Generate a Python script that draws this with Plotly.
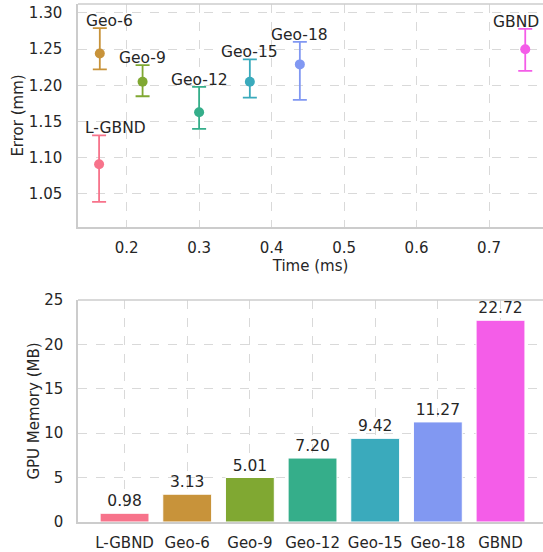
import plotly.graph_objects as go
from plotly.subplots import make_subplots

methods = ["L-GBND", "Geo-6", "Geo-9", "Geo-12", "Geo-15", "Geo-18", "GBND"]
time_ms = [0.162, 0.163, 0.222, 0.300, 0.370, 0.439, 0.750]
error_mm = [1.091, 1.244, 1.205, 1.163, 1.205, 1.229, 1.250]
error_hi = [1.131, 1.279, 1.228, 1.198, 1.236, 1.260, 1.278]
error_lo = [1.039, 1.222, 1.185, 1.140, 1.183, 1.180, 1.220]
memory_mb = [0.98, 3.13, 5.01, 7.20, 9.42, 11.27, 22.72]
colors = ["#f7738b", "#c8933a", "#80a832", "#35ae8a", "#3aaabc", "#8198f2", "#f45de8"]

FONT = "DejaVu Sans"
TXT = "#262626"
GRID = "#d9d9d9"
SPINE = "#cccccc"

fig = make_subplots(rows=2, cols=1, vertical_spacing=0.0)

for i, m in enumerate(methods):
    fig.add_trace(go.Scatter(
        x=[time_ms[i]], y=[error_mm[i]], mode="markers",
        marker=dict(color=colors[i], size=10),
        error_y=dict(type="data", symmetric=False,
                     array=[error_hi[i] - error_mm[i]],
                     arrayminus=[error_mm[i] - error_lo[i]],
                     color=colors[i], thickness=1.8, width=7),
        showlegend=False, hoverinfo="skip"), row=1, col=1)

fig.add_trace(go.Bar(
    x=methods, y=memory_mb, marker=dict(color=colors, line=dict(color="white", width=1)),
    width=0.78, text=[f"{v:.2f}" for v in memory_mb], textposition="outside",
    textfont=dict(family=FONT, size=15.5, color=TXT), cliponaxis=False,
    showlegend=False, hoverinfo="skip"), row=2, col=1)

# point labels
label_anchor = {"L-GBND": ("left", -16), "Geo-6": ("left", -16), "GBND": ("right", 16)}
for i, m in enumerate(methods):
    anc, xs = label_anchor.get(m, ("center", 0))
    fig.add_annotation(x=time_ms[i], y=error_hi[i], xref="x", yref="y", text=m,
                       showarrow=False, xanchor=anc, yanchor="bottom", xshift=xs, yshift=-4,
                       font=dict(family=FONT, size=15.5, color=TXT))

axis_common = dict(showgrid=True, gridcolor=GRID, griddash="dash", gridwidth=1,
                   showline=True, linecolor=SPINE, linewidth=1.5, zeroline=False,
                   ticks="outside", ticklen=6, tickcolor="rgba(0,0,0,0)",
                   tickfont=dict(family=FONT, size=15, color=TXT),
                   title_font=dict(family=FONT, size=15, color=TXT), automargin=False)

fig.update_xaxes(**axis_common)
fig.update_yaxes(**axis_common)

top_dom = [0.5695, 1.0]
bot_dom = [0.0, 0.4286]
fig.update_xaxes(row=1, col=1, range=[0.1329, 0.7745], tickvals=[0.2, 0.3, 0.4, 0.5, 0.6, 0.7],
                 ticktext=["0.2", "0.3", "0.4", "0.5", "0.6", "0.7"],
                 title_text="Time (ms)", title_standoff=2)
fig.update_yaxes(row=1, col=1, domain=top_dom, range=[1.0044, 1.3124], ticklen=11,
                 tickvals=[1.05, 1.10, 1.15, 1.20, 1.25, 1.30],
                 ticktext=["1.05", "1.10", "1.15", "1.20", "1.25", "1.30"],
                 title_text="Error (mm)", title_standoff=2)
fig.update_xaxes(row=2, col=1, range=[-0.743, 6.678], ticklen=6)
fig.update_yaxes(row=2, col=1, domain=bot_dom, range=[0, 25], ticklen=10,
                 tickvals=[0, 5, 10, 15, 20, 25], title_text="GPU Memory (MB)", title_standoff=1)

# top spines
for dom in (top_dom, bot_dom):
    fig.add_shape(type="line", xref="paper", yref="paper", x0=0, x1=1.02, y0=dom[1], y1=dom[1],
                  line=dict(color=SPINE, width=1.5))

fig.update_layout(width=543, height=552, margin=dict(l=78, r=0, t=4, b=30),
                  plot_bgcolor="white", paper_bgcolor="white", bargap=0.2,
                  font=dict(family=FONT, color=TXT))

fig.write_html("out.html", config={"displayModeBar": False},
               post_script="document.body.style.margin='0';document.body.style.overflow='hidden';")
